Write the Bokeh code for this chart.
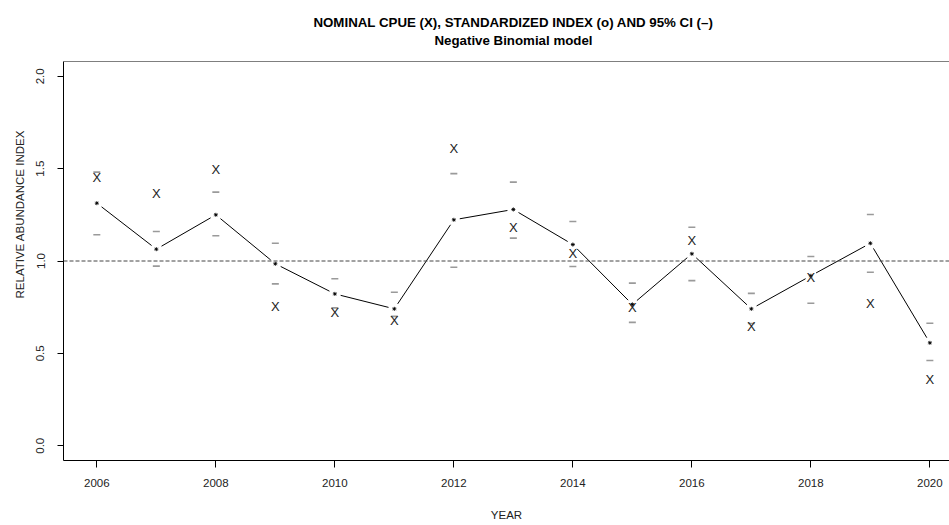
import math

from bokeh.core.properties import value
from bokeh.embed import file_html
from bokeh.layouts import column, row
from bokeh.models import (ColumnDataSource, FixedTicker, NumeralTickFormatter,
                          Range1d, Span)
from bokeh.plotting import figure
from bokeh.resources import INLINE

# ---- data -----------------------------------------------------------------
years = [2006, 2007, 2008, 2009, 2010, 2011, 2012, 2013,
         2014, 2015, 2016, 2017, 2018, 2019, 2020]
nominal_cpue = [1.454, 1.367, 1.496, 0.755, 0.719, 0.678, 1.608, 1.180,
                1.039, 0.750, 1.111, 0.645, 0.910, 0.771, 0.356]
std_index = [1.313, 1.064, 1.250, 0.985, 0.822, 0.741, 1.223, 1.279,
             1.089, 0.765, 1.039, 0.741, 0.920, 1.096, 0.557]
ci_upper = [1.481, 1.160, 1.373, 1.096, 0.904, 0.831, 1.473, 1.427,
            1.214, 0.880, 1.183, 0.825, 1.024, 1.252, 0.663]
ci_lower = [1.142, 0.972, 1.137, 0.876, 0.746, 0.700, 0.966, 1.124,
            0.970, 0.668, 0.894, 0.662, 0.771, 0.939, 0.461]

x_ticks = [2006, 2008, 2010, 2012, 2014, 2016, 2018, 2020]
y_ticks = [0.0, 0.5, 1.0, 1.5, 2.0]

title_lines = ["NOMINAL CPUE (X), STANDARDIZED INDEX (o) AND 95% CI (\u2013)",
               "Negative Binomial model"]
x_label = "YEAR"
y_label = "RELATIVE ABUNDANCE INDEX"

# ---- page geometry (pixels) -------------------------------------------------
FONT = "Liberation Sans"
PAGE_W, PAGE_H = 949, 525
TITLE_H = 60            # strip holding the two title lines
YLAB_W = 30             # strip holding the rotated y-axis title
MAIN_W, MAIN_H = PAGE_W - YLAB_W, PAGE_H - TITLE_H
FRAME_L, FRAME_T, FRAME_B = 63, 61, 460   # plotting box on the page

X0, X1 = 2005.44, 2020.33
Y0, Y1 = -0.08, 2.08


def blank_strip(w, h, xr, yr):
    f = figure(width=w, height=h, x_range=xr, y_range=yr,
               x_axis_type=None, y_axis_type=None, min_border=0,
               output_backend="svg", toolbar_location=None)
    f.outline_line_color = None
    f.background_fill_color = "white"
    f.border_fill_color = "white"
    return f


# ---- title strip (page coordinates, y downwards) -------------------------
head = blank_strip(PAGE_W, TITLE_H, Range1d(0, PAGE_W), Range1d(TITLE_H, 0))
head.text(x=[513, 513], y=[21.5, 40], text=title_lines,
          text_font=value(FONT), text_font_size="13.3px",
          text_font_style="bold", text_color="black",
          text_align="center", text_baseline="middle")

# ---- y-axis title strip --------------------------------------------------
side = blank_strip(YLAB_W, MAIN_H, Range1d(0, YLAB_W),
                   Range1d(PAGE_H, TITLE_H))
side.text(x=[19], y=[238], text=[y_label], angle=math.pi / 2,
          text_font=value(FONT), text_font_size="11.5px",
          text_color="#222222", text_align="center", text_baseline="middle")

# ---- main plot -------------------------------------------------------------
p = figure(width=MAIN_W, height=MAIN_H, output_backend="svg",
           toolbar_location=None,
           x_range=Range1d(X0, X1), y_range=Range1d(Y0, Y1),
           min_border_left=FRAME_L - YLAB_W, min_border_right=0,
           min_border_top=FRAME_T - TITLE_H,
           min_border_bottom=PAGE_H - FRAME_B)
p.background_fill_color = "white"
p.border_fill_color = "white"
p.outline_line_color = None
p.xgrid.visible = False
p.ygrid.visible = False

frame_w = PAGE_W - FRAME_L
frame_h = FRAME_B - FRAME_T
px_per_x = frame_w / (X1 - X0)
px_per_y = frame_h / (Y1 - Y0)

for ax in (p.xaxis[0], p.yaxis[0]):
    ax.axis_line_color = "black"
    ax.axis_line_width = 1
    ax.major_tick_line_color = "black"
    ax.major_tick_in = 0
    ax.minor_tick_line_color = None
    ax.major_label_text_font = FONT
    ax.major_label_text_font_size = "11.5px"
    ax.major_label_text_color = "#222222"
    ax.axis_label_text_font = FONT
    ax.axis_label_text_font_size = "11.5px"
    ax.axis_label_text_font_style = "normal"
    ax.axis_label_text_color = "#222222"

p.xaxis.ticker = FixedTicker(ticks=x_ticks)
p.xaxis.major_tick_out = 7
p.xaxis.major_label_standoff = 11
p.xaxis.axis_label = x_label
p.xaxis.axis_label_standoff = 19

p.yaxis.ticker = FixedTicker(ticks=y_ticks)
p.yaxis.formatter = NumeralTickFormatter(format="0.0")
p.yaxis.major_tick_out = 6
p.yaxis.major_label_standoff = 13
p.yaxis.major_label_orientation = "vertical"

# top side of the box
p.add_layout(Span(location=Y1, dimension="width", line_color="black",
                  line_width=1))

# reference line at 1.0
p.add_layout(Span(location=1.0, dimension="width", line_color="#444444",
                  line_width=1, line_dash="4 2"))

# standardized index joined by a line with small gaps round each point
GAP = 6.0
seg = dict(x0=[], y0=[], x1=[], y1=[])
for i in range(len(years) - 1):
    dxp = (years[i + 1] - years[i]) * px_per_x
    dyp = (std_index[i + 1] - std_index[i]) * px_per_y
    f = GAP / math.hypot(dxp, dyp)
    seg["x0"].append(years[i] + (years[i + 1] - years[i]) * f)
    seg["y0"].append(std_index[i] + (std_index[i + 1] - std_index[i]) * f)
    seg["x1"].append(years[i + 1] - (years[i + 1] - years[i]) * f)
    seg["y1"].append(std_index[i + 1] - (std_index[i + 1] - std_index[i]) * f)
p.segment(x0="x0", y0="y0", x1="x1", y1="y1", source=ColumnDataSource(seg),
          line_color="black", line_width=1)

src = ColumnDataSource(dict(year=years, nominal=nominal_cpue, index=std_index,
                            upper=ci_upper, lower=ci_lower,
                            mark=["X"] * len(years)))

# 95% confidence bounds
p.scatter(x="year", y="upper", source=src, marker="dash", size=7,
          line_color="#9a9a9a", line_width=1.6)
p.scatter(x="year", y="lower", source=src, marker="dash", size=7,
          line_color="#9a9a9a", line_width=1.6)

# standardized index points
p.scatter(x="year", y="index", source=src, marker="asterisk", size=4,
          line_color="black", line_width=0.9)

# nominal CPUE
p.text(x="year", y="nominal", text="mark", source=src,
       text_font=value(FONT), text_font_size="13px", text_color="#222222",
       text_align="center", text_baseline="middle")

layout = column(head, row(side, p, spacing=0), spacing=0)
open("out.html", "w").write(file_html(layout, INLINE))
